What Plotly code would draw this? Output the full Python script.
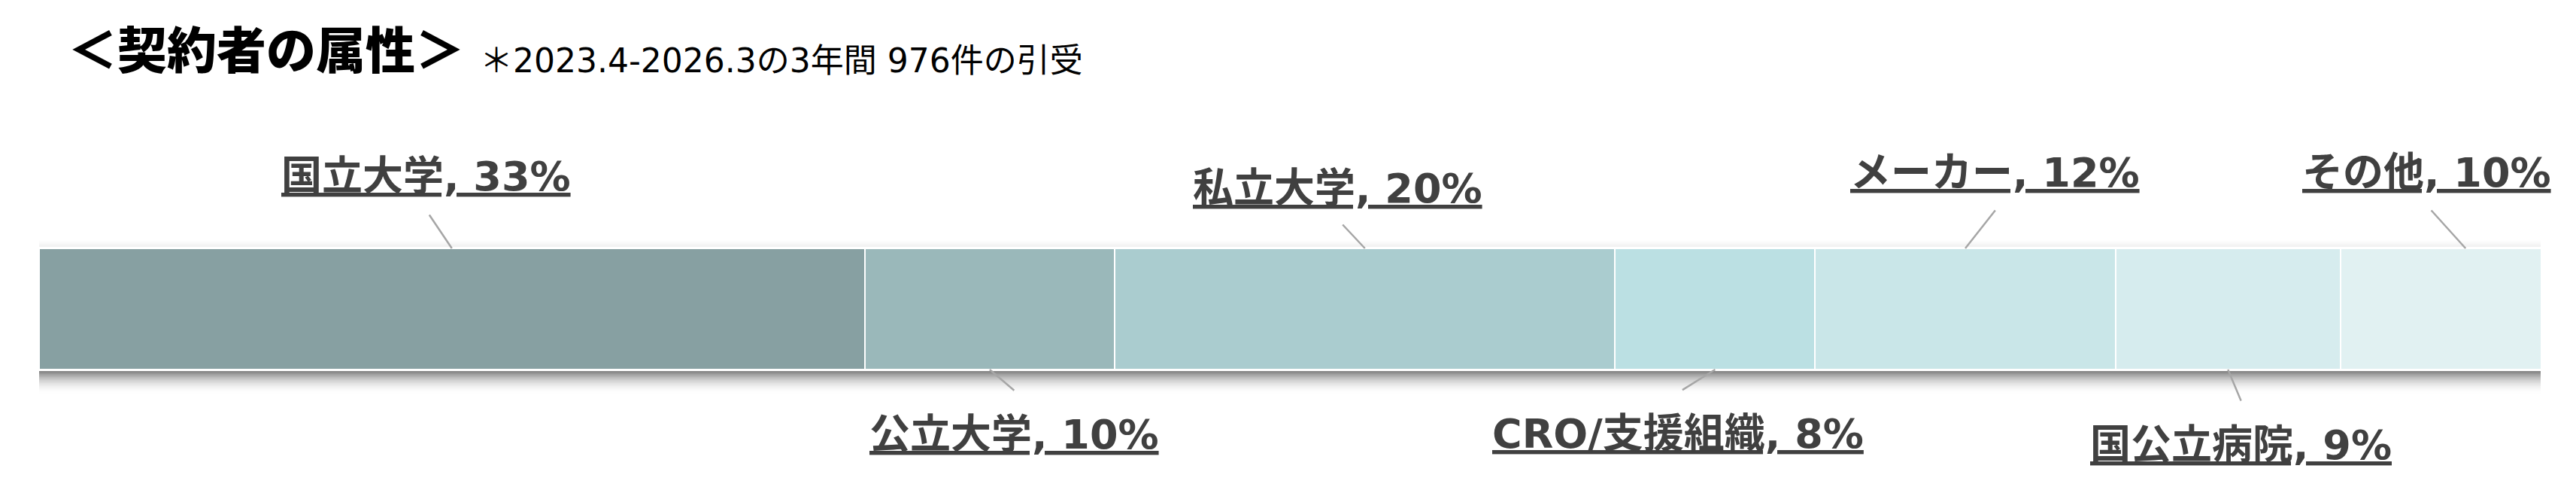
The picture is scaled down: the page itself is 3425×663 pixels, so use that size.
import plotly.graph_objects as go

# 契約者の属性（2023.4-2026.3 の3年間 976件）
categories = ["国立大学", "公立大学", "私立大学", "CRO/支援組織", "メーカー", "国公立病院", "その他"]
shares = [33, 10, 20, 8, 12, 9, 10]
colors = ["#87a0a2", "#9ab8ba", "#aacccf", "#bbe0e3", "#c9e6e8", "#d6ecee", "#e1f1f2"]

title_text = "＜契約者の属性＞"
subtitle_text = "＊2023.4-2026.3の3年間 976件の引受"

# ページの body margin (8px) を差し引いて配置する
OFF = 8
W, H = 3425 - 2 * OFF, 663 - 2 * OFF
PLOT_L, PLOT_R, PLOT_T, PLOT_B = 52 - OFF, 3378 - OFF, 330 - OFF, 491 - OFF

# ラベルの配置 (side, xshift, yshift, leader ax, leader ay)
label_layout = {
    "国立大学": ("top", -34, 96, -31, -46),
    "公立大学": ("bottom", 33, -86, 34, 29),
    "私立大学": ("top", -36, 80, -31, -33),
    "CRO/支援組織": ("bottom", -49, -85, -45, 28),
    "メーカー": ("top", 39, 101, 41, -52),
    "国公立病院": ("bottom", 17, -100, 18, 43),
    "その他": ("top", -52, 101, -47, -52),
}


def px_x(px):
    return (px - OFF - PLOT_L) / (PLOT_R - PLOT_L)


def px_y(py):
    return (PLOT_B - (py - OFF)) / (PLOT_B - PLOT_T)


fig = go.Figure()
for cat, val, col in zip(categories, shares, colors):
    fig.add_trace(go.Bar(
        y=[0], x=[val], orientation="h", name=cat, width=1,
        marker=dict(color=col, line=dict(color="white", width=2)),
        hoverinfo="skip",
    ))

annotations = []
left = 0
for cat, val in zip(categories, shares):
    center = left + val / 2
    left += val
    side, xs, ys, ax, ay = label_layout[cat]
    edge = 0.5 if side == "top" else -0.5
    # 引き出し線
    annotations.append(dict(
        x=center, y=edge, xref="x", yref="y", text="", showarrow=True,
        arrowhead=0, arrowwidth=2.5, arrowcolor="#a6a6a6", ax=ax, ay=ay,
        standoff=0,
    ))
    # ラベル
    annotations.append(dict(
        x=center, y=1 if side == "top" else 0, xref="x", yref="paper",
        text=f"{cat}, {val}%", showarrow=False, xshift=xs, yshift=ys,
        xanchor="center", yanchor="middle",
        font=dict(family="DejaVu Sans, Noto Sans CJK JP", size=54,
                  color="#404040", weight="bold", lineposition="under"),
    ))

annotations.append(dict(
    x=px_x(88), y=px_y(62), xref="paper", yref="paper", text=title_text,
    showarrow=False, xanchor="left", yanchor="middle",
    font=dict(family="Noto Sans CJK JP", size=66, color="#000000", weight=900),
))
annotations.append(dict(
    x=px_x(636), y=px_y(81), xref="paper", yref="paper", text=subtitle_text,
    showarrow=False, xanchor="left", yanchor="middle",
    font=dict(family="DejaVu Sans, Noto Sans CJK JP", size=44, color="#000000"),
))

# 影（下側のぼかし）
shapes = []
n = 15
for i in range(n):
    t = i / n
    y0 = 491 + 2 + 2 * i
    shapes.append(dict(
        type="rect", xref="paper", yref="paper", x0=0, x1=1,
        y0=px_y(y0 + 2), y1=px_y(y0), line=dict(width=0),
        fillcolor=f"rgba(0,0,0,{0.48 * (1 - t) ** 2:.3f})", layer="below",
    ))
for i in range(4):
    y0 = 330 - 2 - 2 * i
    shapes.append(dict(
        type="rect", xref="paper", yref="paper", x0=0, x1=1,
        y0=px_y(y0), y1=px_y(y0 - 2), line=dict(width=0),
        fillcolor=f"rgba(0,0,0,{0.05 * (1 - i / 4):.3f})", layer="below",
    ))

fig.update_layout(
    barmode="stack",
    width=W, height=H,
    margin=dict(l=PLOT_L, r=W - PLOT_R, t=PLOT_T, b=H - PLOT_B, pad=0),
    paper_bgcolor="white", plot_bgcolor="white",
    showlegend=False,
    xaxis=dict(range=[0, 100], visible=False, fixedrange=True),
    yaxis=dict(range=[-0.5, 0.5], visible=False, fixedrange=True),
    annotations=annotations,
    shapes=shapes,
)

fig.write_html("out.html")
